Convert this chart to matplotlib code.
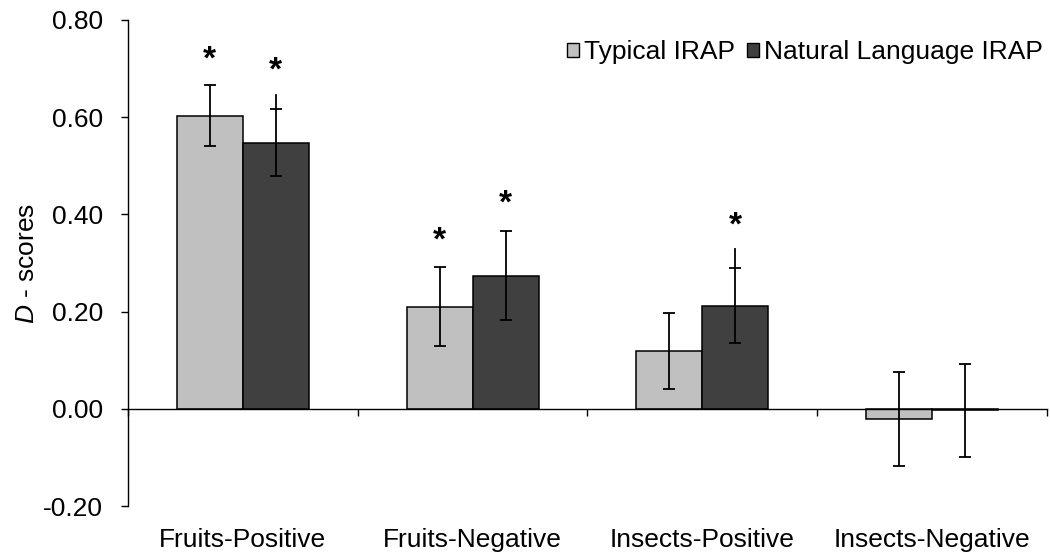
import matplotlib
matplotlib.use("Agg")
import matplotlib.pyplot as plt
import numpy as np
from matplotlib.patches import Patch

plt.rcParams['font.family'] = ['Liberation Sans', 'DejaVu Sans']
plt.rcParams['mathtext.fontset'] = 'custom'
plt.rcParams['mathtext.rm'] = 'Liberation Sans'
plt.rcParams['mathtext.it'] = 'Liberation Sans:italic'

categories = ["Fruits-Positive", "Fruits-Negative", "Insects-Positive", "Insects-Negative"]
series_names = ["Typical IRAP", "Natural Language IRAP"]
typical = [0.603, 0.210, 0.119, -0.021]
typical_err = [0.063, 0.081, 0.078, 0.097]
natural = [0.547, 0.274, 0.212, -0.003]
natural_err = [0.069, 0.091, 0.077, 0.096]
natural_extra_top = [0.646, None, 0.329, None]
typical_star = [0.728, 0.356, None, None]
natural_star = [0.706, 0.432, 0.387, None]
yticks = [-0.2, 0.0, 0.2, 0.4, 0.6, 0.8]

FS = 19
SFS = 24

fig = plt.figure(figsize=(10.5, 5.54), dpi=100)
ax = fig.add_axes([0.1219, 0.0866, 0.8752, 0.8774])

x = np.arange(len(categories))
w = 0.287
ekw = dict(elinewidth=1.3, capthick=1.3, ecolor='black')
ax.bar(x - w/2, typical, w, color='#c0c0c0', edgecolor='black', linewidth=1.1,
       yerr=typical_err, capsize=4.3, error_kw=ekw, zorder=2)
ax.bar(x + w/2, natural, w, color='#404040', edgecolor='black', linewidth=1.1,
       yerr=natural_err, capsize=4.3, error_kw=ekw, zorder=2)

for i, top in enumerate(natural_extra_top):
    if top is not None:
        ax.plot([x[i] + w/2, x[i] + w/2], [natural[i] + natural_err[i], top],
                color='black', lw=1.3, zorder=3)

def star(xp, yp):
    ax.annotate('*', xy=(xp, yp), xytext=(0, -0.58 * SFS + 4), textcoords='offset points',
                ha='center', va='baseline', fontsize=SFS, fontweight='bold')

for i, s in enumerate(typical_star):
    if s is not None:
        star(x[i] - w/2, s)
for i, s in enumerate(natural_star):
    if s is not None:
        star(x[i] + w/2, s)

ax.set_xlim(-0.5, len(categories) - 0.5)
ax.set_ylim(-0.2, 0.8)
ax.set_yticks(yticks)
ax.set_yticklabels([f"{v:.2f}" for v in yticks], fontsize=FS)
ax.tick_params(axis='y', direction='out', length=5, width=1.0, pad=13)

ax.spines['top'].set_visible(False)
ax.spines['right'].set_visible(False)
ax.spines['bottom'].set_position(('data', 0))
ax.spines['left'].set_linewidth(1.0)
ax.spines['bottom'].set_linewidth(1.0)

ax.set_xticks(np.arange(len(categories) + 1) - 0.5)
ax.set_xticklabels([])
ax.tick_params(axis='x', direction='out', length=5, width=1.0)
for i, c in enumerate(categories):
    ax.text(x[i], -0.0844, c, transform=ax.get_xaxis_transform(), ha='center', va='baseline', fontsize=FS)

ax.set_ylabel(r"$\mathit{D}$ - scores", fontsize=FS)
ax.yaxis.set_label_coords(-0.0967, 0.5)

handles = [Patch(facecolor='#c0c0c0', edgecolor='black', linewidth=1.0),
           Patch(facecolor='#404040', edgecolor='black', linewidth=1.0)]
ax.legend(handles, series_names, loc='center right', bbox_to_anchor=(0.996, 0.934), ncol=2,
          frameon=False, fontsize=FS, handlelength=0.45, handleheight=0.45,
          handletextpad=0.2, columnspacing=0.45, borderaxespad=0.0, borderpad=0.0)

fig.savefig("out.png", dpi=100)
